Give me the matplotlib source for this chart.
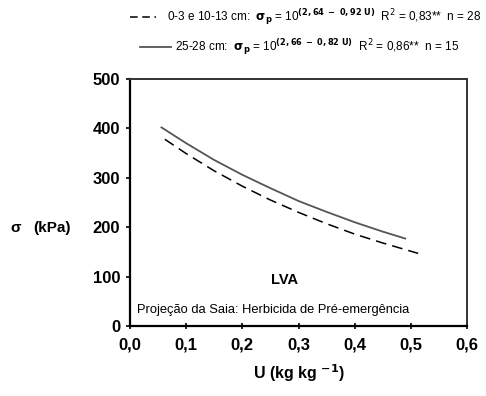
import matplotlib
matplotlib.use("Agg")
import matplotlib.pyplot as plt
from matplotlib.lines import Line2D

plt.rcParams['font.family'] = ['Liberation Sans', 'DejaVu Sans']

# Curves
u_dashed = [0.062, 0.10, 0.15, 0.20, 0.25, 0.30, 0.35, 0.40, 0.45, 0.513]
s_dashed = [378, 349, 314, 283, 255, 230, 207, 186, 168, 147]
u_solid = [0.056, 0.10, 0.15, 0.20, 0.25, 0.30, 0.35, 0.40, 0.45, 0.49]
s_solid = [402, 370, 336, 306, 279, 253, 231, 210, 191, 177]

legend_labels = [
    r"0-3 e 10-13 cm:  $\mathbf{\sigma_p}$ = 10$^{\mathbf{(2,64\ -\ 0,92\ U)}}$  R$^2$ = 0,83**  n = 28",
    r"25-28 cm:  $\mathbf{\sigma_p}$ = 10$^{\mathbf{(2,66\ -\ 0,82\ U)}}$  R$^2$ = 0,86**  n = 15",
]
xticks = [0.0, 0.1, 0.2, 0.3, 0.4, 0.5, 0.6]
xticklabels = ["0,0", "0,1", "0,2", "0,3", "0,4", "0,5", "0,6"]
yticks = [0, 100, 200, 300, 400, 500]

W, H = 486, 396
fig = plt.figure(figsize=(W / 100, H / 100), dpi=100)
ax = fig.add_axes([0.2675, 0.1768, 0.6935, 0.6237])

ax.plot(u_dashed, s_dashed, color="black", lw=1.1, dashes=(7, 4))
ax.plot(u_solid, s_solid, color="#555555", lw=1.3)

ax.set_xlim(0, 0.6)
ax.set_ylim(0, 500)
ax.set_xticks(xticks)
ax.set_xticklabels(xticklabels)
ax.set_yticks(yticks)
for lab in ax.get_xticklabels() + ax.get_yticklabels():
    lab.set_fontweight("bold")
    lab.set_fontsize(12)
ax.tick_params(axis="y", direction="out", length=3, width=1.2, pad=4)
ax.tick_params(axis="x", direction="inout", length=5, width=1.2, pad=6)

for s in ["left", "bottom"]:
    ax.spines[s].set_linewidth(1.6)
    ax.spines[s].set_color("black")
for s in ["top", "right"]:
    ax.spines[s].set_linewidth(1.4)
    ax.spines[s].set_color("#333333")

ax.set_xlabel(r"U (kg kg $^{\mathbf{-1}}$)", fontsize=11.5, fontweight="bold", labelpad=7)
fig.text(10 / W, 1 - 228 / H, "σ", fontsize=11, fontweight="bold", ha="left", va="center")
fig.text(33 / W, 1 - 228 / H, "(kPa)", fontsize=11, fontweight="bold", ha="left", va="center")

ax.text(0.275, 93, "LVA", fontsize=10.5, fontweight="bold", ha="center", va="center")
ax.text(0.012, 32, "Projeção da Saia: Herbicida de Pré-emergência", fontsize=9.3,
        ha="left", va="center")

# Legend drawn in figure pixel coordinates
fig.add_artist(Line2D([130 / W, 156 / W], [1 - 17 / H, 1 - 17 / H], color="black",
                      lw=1.1, dashes=(5, 3), transform=fig.transFigure))
fig.text(167 / W, 1 - 17 / H, legend_labels[0], fontsize=8.5, ha="left", va="center")
fig.add_artist(Line2D([140 / W, 171 / W], [1 - 47 / H, 1 - 47 / H], color="#555555",
                      lw=1.3, transform=fig.transFigure))
fig.text(175 / W, 1 - 47 / H, legend_labels[1], fontsize=8.5, ha="left", va="center")

fig.savefig("out.png", dpi=100)
